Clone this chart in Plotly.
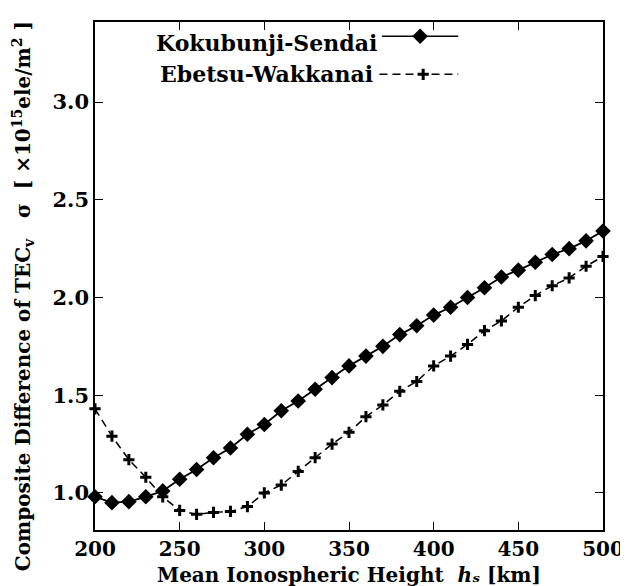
import plotly.graph_objects as go

heights = list(range(200, 501, 10))
kokubunji_sendai = [0.98, 0.95, 0.955, 0.98, 1.01, 1.07, 1.12, 1.18, 1.23, 1.30,
                    1.35, 1.42, 1.47, 1.53, 1.59, 1.65, 1.70, 1.75, 1.81, 1.855,
                    1.91, 1.95, 2.00, 2.05, 2.105, 2.14, 2.18, 2.22, 2.25, 2.29, 2.34]
ebetsu_wakkanai = [1.43, 1.29, 1.17, 1.08, 0.98, 0.91, 0.89, 0.90, 0.905, 0.93,
                   1.00, 1.04, 1.11, 1.18, 1.25, 1.31, 1.39, 1.45, 1.52, 1.57,
                   1.65, 1.70, 1.76, 1.83, 1.88, 1.95, 2.01, 2.06, 2.10, 2.16, 2.21]
x_ticks = [200, 250, 300, 350, 400, 450, 500]
y_ticks = [1.0, 1.5, 2.0, 2.5, 3.0]
series_names = ["Kokubunji-Sendai", "Ebetsu-Wakkanai"]

FONT = "DejaVu Serif"
fig = go.Figure()

fig.add_trace(go.Scatter(
    x=heights, y=kokubunji_sendai, mode="lines+markers", name=series_names[0],
    line=dict(color="black", width=1.8),
    marker=dict(symbol="diamond", size=12, color="black"),
    cliponaxis=False, showlegend=False))
fig.add_trace(go.Scatter(
    x=heights, y=ebetsu_wakkanai, mode="lines+markers", name=series_names[1],
    line=dict(color="black", width=1.5, dash="8px,5px"),
    marker=dict(symbol="cross-thin", size=8, color="black",
                line=dict(color="black", width=3)),
    cliponaxis=False, showlegend=False))

# legend samples drawn on an overlay axis spanning the plot in fractions
fig.add_trace(go.Scatter(
    x=[0.565, 0.64, 0.715], y=[0.972, 0.972, 0.972], mode="lines",
    line=dict(color="black", width=1.5), xaxis="x2", yaxis="y2",
    showlegend=False, hoverinfo="skip", cliponaxis=False))
fig.add_trace(go.Scatter(
    x=[0.64], y=[0.972], mode="markers",
    marker=dict(symbol="diamond", size=12, color="black"), xaxis="x2", yaxis="y2",
    showlegend=False, hoverinfo="skip", cliponaxis=False))
fig.add_trace(go.Scatter(
    x=[0.56, 0.715], y=[0.897, 0.897], mode="lines",
    line=dict(color="black", width=1.5, dash="8px,5px"), xaxis="x2", yaxis="y2",
    showlegend=False, hoverinfo="skip", cliponaxis=False))
fig.add_trace(go.Scatter(
    x=[0.646], y=[0.897], mode="markers",
    marker=dict(symbol="cross-thin", size=8, color="black",
                line=dict(color="black", width=3)), xaxis="x2", yaxis="y2",
    showlegend=False, hoverinfo="skip", cliponaxis=False))

axis_common = dict(
    showline=True, linecolor="black", linewidth=1.6, mirror="ticks",
    ticks="inside", ticklen=8, tickwidth=1.4, tickcolor="black",
    showgrid=False, zeroline=False,
)

fig.update_layout(
    width=628, height=586,
    margin=dict(l=87, r=26, t=14, b=64),
    paper_bgcolor="white", plot_bgcolor="white",
    xaxis=dict(range=[200, 500], tickvals=x_ticks, ticktext=[str(v) for v in x_ticks],
               tickfont=dict(family=FONT, size=20, color="black", weight="bold"),
               **axis_common),
    yaxis=dict(range=[0.81, 3.41], tickvals=y_ticks,
               ticktext=[f"{v:.1f}" for v in y_ticks],
               tickfont=dict(family=FONT, size=21, color="black", weight="bold"),
               **axis_common),
    xaxis2=dict(overlaying="x", range=[0, 1], visible=False),
    yaxis2=dict(overlaying="y", range=[0, 1], visible=False),
    annotations=[
        dict(text=series_names[0], xref="paper", yref="paper", x=0.56, y=0.958,
             xanchor="right", yanchor="middle", showarrow=False,
             font=dict(family=FONT, size=22, color="black", weight="bold")),
        dict(text=series_names[1], xref="paper", yref="paper", x=0.552, y=0.897,
             xanchor="right", yanchor="middle", showarrow=False,
             font=dict(family=FONT, size=22, color="black", weight="bold")),
        dict(text="Mean Ionospheric Height  <i>hₛ</i> [km]",
             xref="paper", yref="paper", x=0.5, y=-0.088,
             xanchor="center", yanchor="middle", showarrow=False,
             font=dict(family=FONT, size=20, color="black", weight="bold")),
        dict(text="Composite Difference of TEC<sub>v</sub>   σ  [ ×10<sup>15</sup>ele/m<sup>2</sup> ]",
             xref="paper", yref="paper", x=-0.142, y=0.46, textangle=-90,
             xanchor="center", yanchor="middle", showarrow=False,
             font=dict(family=FONT, size=20, color="black", weight="bold")),
    ],
)

fig.write_html("out.html")
